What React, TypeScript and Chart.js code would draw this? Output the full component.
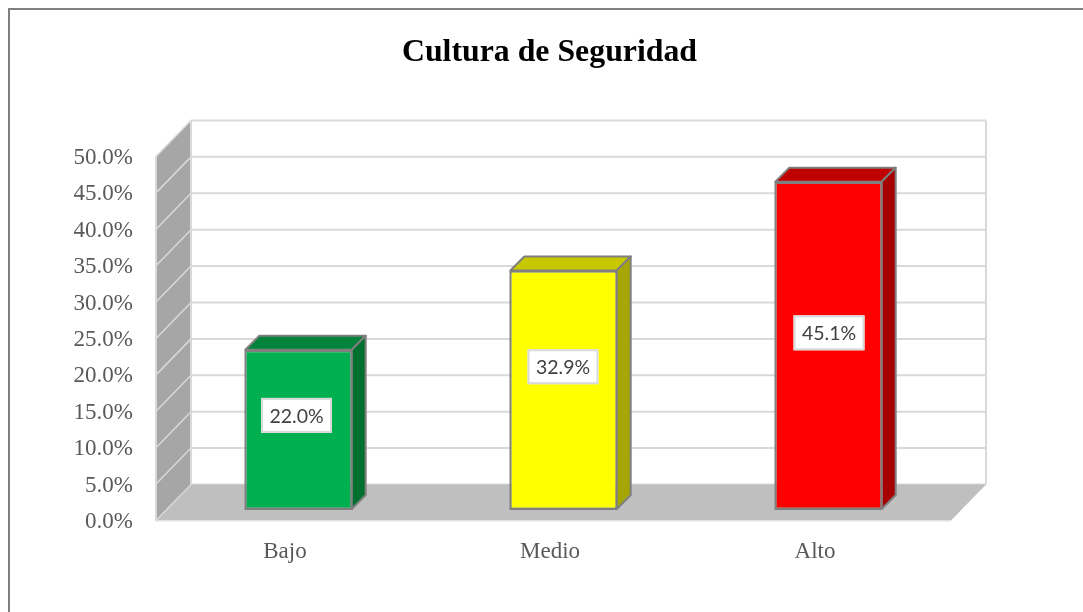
import React, { useEffect, useRef } from "react";
import { Chart, registerables } from "chart.js";

Chart.register(...registerables);

const titleText = "Cultura de Seguridad";
const categories = ["Bajo", "Medio", "Alto"];
const values = [22.0, 32.9, 45.1];
const frontColors = ["#00B050", "#FFFF00", "#FF0000"];
const topColors = ["#00843C", "#C8C800", "#BF0000"];
const sideColors = ["#00702F", "#A6A600", "#A60000"];
const labelNudgeX = [-2, -0.5, 0.5];
const labelNudgeY = [-14.5, -23.5, -13];

const serif = "'Liberation Serif', 'Times New Roman', serif";
const WALL_DX = 35;
const WALL_DY = 36;
const BAR_DX = 10;
const BAR_DY = 10.5;
const BAR_DEPTH = 14;
const GRID = "#D9D9D9";
const EDGE = "#7F7F7F";

function poly(ctx: CanvasRenderingContext2D, pts: number[][]) {
  ctx.beginPath();
  pts.forEach(([x, y], i) => (i ? ctx.lineTo(x, y) : ctx.moveTo(x, y)));
  ctx.closePath();
}

const box3d = {
  id: "box3d",
  afterLayout(chart: any) {
    // the title is centred a little left of the plot: 402–697 px
    chart.titleBlock.left = 148;
  },
  beforeDraw(chart: any) {
    const { ctx, width, height } = chart;
    ctx.save();
    ctx.fillStyle = "#FFFFFF";
    ctx.fillRect(0, 0, width, height);
    ctx.fillStyle = "#7F7F7F";
    ctx.fillRect(8, 8, width - 8, 2);
    ctx.fillRect(8, 8, 2, height - 8);
    ctx.restore();
  },
  beforeDatasetsDraw(chart: any) {
    const { ctx, scales } = chart;
    const { left, right, top, bottom } = chart.chartArea;
    const y = scales.y;
    ctx.save();

    // back wall gridlines
    ctx.strokeStyle = GRID;
    ctx.lineWidth = 2;
    y.ticks.forEach((t: any) => {
      const py = y.getPixelForValue(t.value) - WALL_DY;
      ctx.beginPath();
      ctx.moveTo(left + WALL_DX, py);
      ctx.lineTo(right + WALL_DX, py);
      ctx.stroke();
    });
    ctx.beginPath();
    ctx.moveTo(right + WALL_DX, top - WALL_DY);
    ctx.lineTo(right + WALL_DX, bottom - WALL_DY);
    ctx.stroke();

    // floor
    ctx.fillStyle = "#BFBFBF";
    poly(ctx, [
      [left, bottom],
      [right, bottom],
      [right + WALL_DX, bottom - WALL_DY],
      [left + WALL_DX, bottom - WALL_DY],
    ]);
    ctx.fill();
    ctx.strokeStyle = "#E4E4E4";
    ctx.lineWidth = 1;
    ctx.beginPath();
    ctx.moveTo(left, bottom + 0.5);
    ctx.lineTo(right, bottom + 0.5);
    ctx.stroke();

    // side wall
    ctx.fillStyle = "#A6A6A6";
    poly(ctx, [
      [left, top],
      [left + WALL_DX, top - WALL_DY],
      [left + WALL_DX, bottom - WALL_DY],
      [left, bottom],
    ]);
    ctx.fill();
    ctx.strokeStyle = GRID;
    ctx.lineWidth = 1.5;
    y.ticks.forEach((t: any) => {
      const py = y.getPixelForValue(t.value);
      ctx.beginPath();
      ctx.moveTo(left, py);
      ctx.lineTo(left + WALL_DX, py - WALL_DY);
      ctx.stroke();
    });
    ctx.lineWidth = 2;
    ctx.beginPath();
    ctx.moveTo(left + WALL_DX, top - WALL_DY);
    ctx.lineTo(left + WALL_DX, bottom - WALL_DY);
    ctx.stroke();
    ctx.beginPath();
    ctx.moveTo(left, top);
    ctx.lineTo(left, bottom);
    ctx.stroke();

    // shift the bars into the box and draw their top and side faces
    ctx.translate(BAR_DX, -BAR_DY);
    ctx.strokeStyle = EDGE;
    ctx.lineWidth = 2;
    ctx.lineJoin = "round";
    chart.getDatasetMeta(0).data.forEach((bar: any, i: number) => {
      const l = bar.x - bar.width / 2 + 1;
      const r = bar.x + bar.width / 2 - 1;
      const t = bar.y;
      const b = bar.base - 1;
      ctx.fillStyle = topColors[i];
      poly(ctx, [
        [l, t],
        [r, t],
        [r + BAR_DEPTH, t - BAR_DEPTH],
        [l + BAR_DEPTH, t - BAR_DEPTH],
      ]);
      ctx.fill();
      ctx.stroke();
      ctx.fillStyle = sideColors[i];
      poly(ctx, [
        [r, t],
        [r + BAR_DEPTH, t - BAR_DEPTH],
        [r + BAR_DEPTH, b - BAR_DEPTH],
        [r, b],
      ]);
      ctx.fill();
      ctx.stroke();
    });
  },
  afterDatasetsDraw(chart: any) {
    const { ctx } = chart;
    ctx.restore();
    ctx.save();
    ctx.font = "19.5px Lato, 'Open Sans', sans-serif";
    ctx.textAlign = "center";
    ctx.textBaseline = "middle";
    chart.getDatasetMeta(0).data.forEach((bar: any, i: number) => {
      const cx = bar.x + BAR_DX + labelNudgeX[i];
      const cy = (bar.y + bar.base) / 2 - BAR_DY + labelNudgeY[i];
      ctx.fillStyle = "#FFFFFF";
      ctx.fillRect(cx - 35.5, cy - 17.5, 71, 35);
      ctx.strokeStyle = GRID;
      ctx.lineWidth = 2;
      ctx.strokeRect(cx - 34.5, cy - 16.5, 69, 33);
      ctx.fillStyle = "#404040";
      ctx.fillText(values[i].toFixed(1) + "%", cx, cy + 1);
    });
    ctx.restore();
  },
};

export default function App() {
  const ref = useRef<HTMLCanvasElement>(null);
  useEffect(() => {
    const chart = new Chart(ref.current as HTMLCanvasElement, {
      type: "bar",
      data: {
        labels: categories,
        datasets: [
          {
            data: values,
            backgroundColor: frontColors,
            borderColor: EDGE,
            borderWidth: 2.4,
            borderSkipped: false,
            barPercentage: 0.409,
            categoryPercentage: 1,
          },
        ],
      },
      plugins: [box3d],
      options: {
        responsive: false,
        animation: false,
        layout: { padding: { left: 0, right: 132, top: 34, bottom: 0 } },
        plugins: {
          legend: { display: false },
          tooltip: { enabled: false },
          title: {
            display: true,
            text: titleText,
            color: "#000000",
            font: { family: serif, size: 31.8, weight: "bold" },
            padding: { top: 0, bottom: 84.3 },
          },
        },
        scales: {
          x: {
            afterFit: (s: any) => {
              s.height = 91.5;
            },
            grid: { display: false, drawTicks: false },
            border: { display: false },
            ticks: {
              color: "#595959",
              font: { family: serif, size: 23 },
              padding: 17.5,
              labelOffset: -3.5,
              autoSkip: false,
              maxRotation: 0,
            },
          },
          y: {
            min: 0,
            max: 50,
            afterFit: (s: any) => {
              s.width = 156;
            },
            grid: { display: false, drawTicks: false },
            border: { display: false },
            ticks: {
              stepSize: 5,
              color: "#595959",
              font: { family: serif, size: 23 },
              padding: 23,
              labelOffset: 1.5,
              callback: (v: any) => Number(v).toFixed(1) + "%",
            },
          },
        },
      },
    } as any);
    return () => chart.destroy();
  }, []);
  return (
    <div style={{ position: "fixed", left: 0, top: 0, width: 1083, height: 612, background: "#fff" }}>
      <canvas ref={ref} width={1083} height={612} style={{ display: "block" }} />
    </div>
  );
}
